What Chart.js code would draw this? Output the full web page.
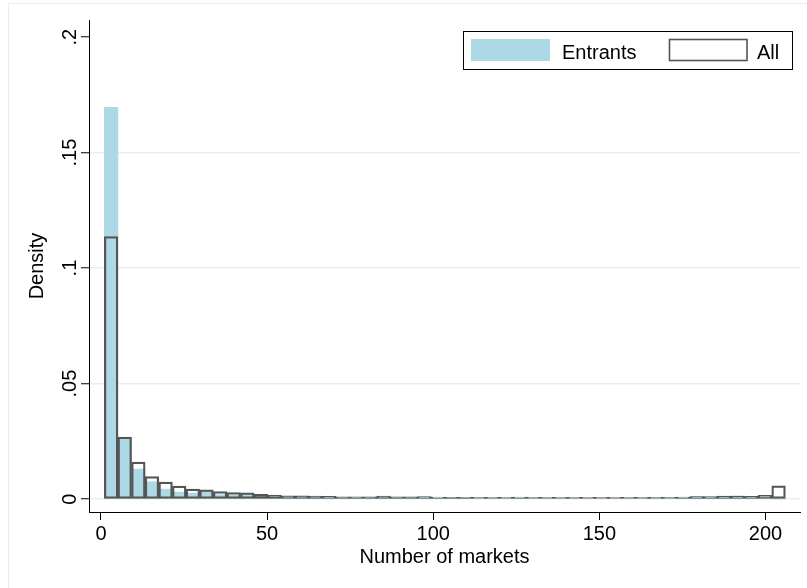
<!DOCTYPE html>
<html>
<head>
<meta charset="utf-8">
<title>Number of markets histogram</title>
<script src="https://cdn.jsdelivr.net/npm/chart.js@4.4.1/dist/chart.umd.min.js"></script>
<style>
  html, body { margin: 0; padding: 0; background: #ffffff; }
  #wrap { width: 807px; height: 588px; position: relative; }
</style>
</head>
<body>
<div id="wrap"><canvas id="chart" width="807" height="588"></canvas></div>
<script>
// Histogram bins: 50 bins of equal width starting at 1
const binStart = 1;
const binWidth = 4.1;

// Density per bin
const entrants = [
  0.1696, 0.0262, 0.0130, 0.0075, 0.0043, 0.0030, 0.0026, 0.0035, 0.0019, 0.0016,
  0.0022, 0.0012, 0.0014, 0.0010, 0.0011, 0.0010, 0.0009, 0.0006, 0.0006, 0.0008,
  0.0011, 0.0007, 0.0008, 0.0009, 0.0006, 0.0006, 0.0005, 0.0004, 0.0004, 0.0004,
  0.0006, 0.0004, 0.0004, 0.0003, 0.0004, 0.0003, 0.0004, 0.0003, 0.0004, 0.0004,
  0.0005, 0.0005, 0.0007, 0.0012, 0.0009, 0.0013, 0.0014, 0.0009, 0.0005, 0.0000
];
const allFirms = [
  0.1136, 0.0268, 0.0160, 0.0097, 0.0074, 0.0056, 0.0043, 0.0040, 0.0032, 0.0028,
  0.0027, 0.0021, 0.0017, 0.0014, 0.0014, 0.0013, 0.0012, 0.0010, 0.0010, 0.0010,
  0.0013, 0.0010, 0.0010, 0.0011, 0.0009, 0.0008, 0.0008, 0.0007, 0.0007, 0.0007,
  0.0009, 0.0007, 0.0007, 0.0007, 0.0007, 0.0007, 0.0007, 0.0007, 0.0007, 0.0007,
  0.0007, 0.0007, 0.0009, 0.0011, 0.0011, 0.0012, 0.0012, 0.0012, 0.0016, 0.0057
];

const seriesNames = ['Entrants', 'All'];
const xTickValues = [0, 50, 100, 150, 200];
const yTickValues = [0, 0.05, 0.1, 0.15, 0.2];
const yTickLabels = ['0', '.05', '.1', '.15', '.2'];
const xTitle = 'Number of markets';
const yTitle = 'Density';

const FONT = '"Liberation Sans", Arial, Helvetica, sans-serif';
const BLUE = '#add8e6';
const OUTLINE = '#555555';
const GRID = '#e7eff2';

Chart.defaults.font.family = FONT;
Chart.defaults.color = '#000000';

const toPoints = vals => vals.map((v, i) => ({ x: binStart + binWidth * (i + 0.5), y: v }));

// Light outer frame of the graph region
const framePlugin = {
  id: 'frame',
  beforeDraw(chart) {
    const ctx = chart.ctx;
    ctx.save();
    ctx.fillStyle = '#ffffff';
    ctx.fillRect(0, 0, chart.width, chart.height);
    ctx.strokeStyle = '#e6eef1';
    ctx.lineWidth = 1;
    ctx.beginPath();
    ctx.moveTo(8.5, chart.height);
    ctx.lineTo(8.5, 3.5);
    ctx.lineTo(chart.width, 3.5);
    ctx.stroke();
    ctx.restore();
  }
};

// Vertical y tick labels
const yLabelPlugin = {
  id: 'yLabels',
  afterDraw(chart) {
    const ctx = chart.ctx;
    const ys = chart.scales.y;
    ctx.save();
    ctx.font = '20px ' + FONT;
    ctx.fillStyle = '#000000';
    ctx.textAlign = 'center';
    ctx.textBaseline = 'alphabetic';
    yTickValues.forEach((v, i) => {
      ctx.save();
      ctx.translate(76, ys.getPixelForValue(v));
      ctx.rotate(-Math.PI / 2);
      ctx.fillText(yTickLabels[i], 0, 0);
      ctx.restore();
    });
    ctx.restore();
  }
};

// Boxed legend in the upper right of the plot
const legendPlugin = {
  id: 'boxLegend',
  afterDraw(chart) {
    const ctx = chart.ctx;
    const ds = chart.data.datasets;
    ctx.save();
    ctx.strokeStyle = '#000000';
    ctx.lineWidth = 1;
    ctx.fillStyle = '#ffffff';
    ctx.fillRect(463.5, 31.5, 329, 38);
    ctx.strokeRect(463.5, 31.5, 329, 38);

    ctx.fillStyle = ds[0].backgroundColor;
    ctx.fillRect(471, 39, 79, 22);

    ctx.strokeStyle = ds[1].borderColor;
    ctx.lineWidth = 1.6;
    ctx.strokeRect(669.5, 39.5, 77.5, 21);

    ctx.font = '20px ' + FONT;
    ctx.fillStyle = '#000000';
    ctx.textAlign = 'left';
    ctx.textBaseline = 'alphabetic';
    ctx.fillText(ds[0].label, 562, 59);
    ctx.fillText(ds[1].label, 757, 59);
    ctx.restore();
  }
};

new Chart(document.getElementById('chart'), {
  type: 'bar',
  data: {
    datasets: [
      {
        label: seriesNames[0],
        data: toPoints(entrants),
        backgroundColor: BLUE,
        borderWidth: 0,
        order: 2
      },
      {
        label: seriesNames[1],
        data: toPoints(allFirms),
        backgroundColor: 'rgba(255,255,255,0)',
        borderColor: OUTLINE,
        borderWidth: 1.6,
        borderSkipped: false,
        order: 1
      }
    ]
  },
  options: {
    responsive: false,
    animation: false,
    devicePixelRatio: 1,
    grouped: false,
    barPercentage: 1,
    categoryPercentage: 1,
    layout: { padding: { top: 20, right: 7, left: 0, bottom: 0 } },
    plugins: {
      legend: { display: false },
      tooltip: { enabled: false }
    },
    scales: {
      x: {
        type: 'linear',
        offset: false,
        min: -3.6,
        max: 210.4,
        afterBuildTicks: s => { s.ticks = xTickValues.map(v => ({ value: v })); },
        afterFit: s => { s.height = 76; },
        ticks: {
          font: { size: 20 },
          color: '#000000',
          padding: 2,
          maxRotation: 0,
          callback: v => String(v)
        },
        grid: {
          offset: false,
          drawOnChartArea: false,
          drawTicks: true,
          tickLength: 8,
          tickColor: '#000000',
          tickWidth: 1
        },
        border: { color: '#000000', width: 1 },
        title: {
          display: true,
          text: xTitle,
          font: { size: 20 },
          color: '#000000',
          padding: { top: 0, bottom: 19 }
        }
      },
      y: {
        type: 'linear',
        min: -0.0056,
        max: 0.2074,
        afterBuildTicks: s => { s.ticks = yTickValues.map(v => ({ value: v })); },
        afterFit: s => { s.width = 89; },
        ticks: { display: false },
        grid: {
          color: c => (c.tick && c.tick.value >= 0.2 ? 'rgba(0,0,0,0)' : GRID),
          lineWidth: 1.5,
          drawTicks: true,
          tickLength: 8,
          tickColor: '#000000',
          tickWidth: 1
        },
        border: { color: '#000000', width: 1 },
        title: {
          display: true,
          text: yTitle,
          font: { size: 20 },
          color: '#000000',
          padding: { top: 25, bottom: 0 }
        }
      }
    }
  },
  plugins: [framePlugin, yLabelPlugin, legendPlugin]
});
</script>
</body>
</html>
